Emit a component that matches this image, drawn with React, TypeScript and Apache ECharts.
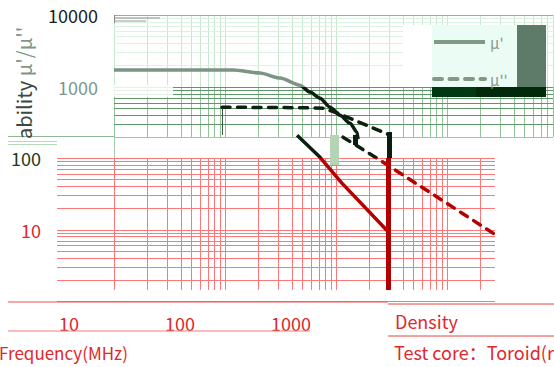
import React, { useEffect, useRef } from 'react';
import * as echarts from 'echarts';

const FONT = '"Noto Sans CJK SC", "Noto Sans", sans-serif';

// ---- data (frequency MHz, permeability) ----
const MU_REAL_UPPER: [number, number][] = [
  [10, 1700], [60, 1700], [118, 1700], [206, 1545], [313, 1315], [474, 1049], [583, 838],
  [718, 690], [884, 516], [1087, 399], [1337, 309], [1545, 231], [1580, 185],
];
const MU_REAL_LOWER: [number, number][] = [[446, 210], [718, 103], [1130, 45], [2880, 9.8]];
const MU_IMAG_UPPER: [number, number][] = [[94, 516], [470, 508], [764, 500], [1020, 430], [3060, 210]];
const MU_IMAG_LOWER: [number, number][] = [[1156, 197], [2490, 94], [27000, 8.65]];

const X_TICK_LABELS = [10, 100, 1000];
const Y_TICK_LABELS_TOP = [1000, 10000];
const Y_TICK_LABELS_BOTTOM = [10, 100];

const STEPS = [1, 2, 3, 4, 5, 6, 7, 8, 9];
const decadeLines = (decades: number[]) => decades.flatMap((d) => STEPS.map((s) => s * d));

const X_GRID = decadeLines([10, 100, 1000, 10000]);
const Y_GRID_TOP = [2000, 3000, 4000, 5000, 6000, 7000, 8000, 9000];
const Y_GRID_MID = [300, 400, 500, 600, 700, 800, 900, 1000];
const Y_GRID_RED = decadeLines([1, 10]).concat([100]);

const XMAX = Math.pow(10, 1 + 439 / 111);
const XRED_MIN = Math.pow(10, 1 - 57 / 111);
const XRED_MAX = Math.pow(10, 1 + 381 / 111);
const XLAB_MIN = Math.pow(10, 1 - 12 / 111);
const XLAB_MAX = Math.pow(10, 1 + 426 / 111);

const RED_GRID = '#ff7676';

const mk = (data: any[], color: string) => ({
  silent: true,
  z: 1,
  symbol: ['none', 'none'],
  label: { show: false },
  emphasis: { disabled: true },
  lineStyle: { type: 'solid', width: 1, color, opacity: 1 },
  data,
});

const rect = (x: number, y: number, w: number, h: number, fill: string, z = 2) => ({
  type: 'rect', silent: true, z, shape: { x, y, width: w, height: h }, style: { fill },
});
const seg = (x1: number, y1: number, x2: number, y2: number, stroke: string, w = 1, z = 2) => ({
  type: 'line', silent: true, z, shape: { x1, y1, x2, y2 }, style: { stroke, lineWidth: w },
});
const txt = (x: number, y: number, text: string, fill: string, size: number) => ({
  type: 'text', silent: true, z: 6, x, y,
  style: { text, fill, fontSize: size, fontFamily: FONT, align: 'left', verticalAlign: 'middle', textAlign: 'left', textVerticalAlign: 'middle' },
});

function buildOption(): any {
  const round = (v: number) => Math.round(v);
  const dashed = { width: 3.5, type: [8, 7.5], cap: 'round' };
  const off = () => ({
    axisLine: { show: false }, axisTick: { show: false }, splitLine: { show: false }, minorSplitLine: { show: false },
  });
  return {
    animation: false,
    textStyle: { fontFamily: FONT },
    grid: [
      { left: 114, top: 15, width: 439, height: 72 },
      { left: 114, top: 87, width: 439, height: 50 },
      { left: 57, top: 158, width: 438, height: 143.5 },
      { left: 114, top: 15, width: 439, height: 286.5 },
    ],
    xAxis: [
      { type: 'log', gridIndex: 0, min: 10, max: XMAX, show: false },
      { type: 'log', gridIndex: 1, min: 10, max: XMAX, show: false },
      {
        type: 'log', gridIndex: 2, min: XLAB_MIN, max: XLAB_MAX, position: 'bottom', ...off(),
        axisLabel: {
          margin: 12, fontSize: 18, color: '#e0262b', fontFamily: FONT,
          formatter: (v: number) => (X_TICK_LABELS.includes(round(v)) ? String(round(v)) : ''),
        },
      },
      { type: 'log', gridIndex: 2, min: XRED_MIN, max: XRED_MAX, position: 'top', show: false },
      { type: 'log', gridIndex: 3, min: 10, max: XMAX, show: false },
    ],
    yAxis: [
      {
        type: 'log', gridIndex: 0, min: 1000, max: 10000, ...off(),
        axisLabel: {
          margin: 16, fontSize: 18, fontFamily: FONT,
          color: (v: any) => (round(Number(v)) >= 10000 ? '#1c1c1c' : '#7b988a'),
          formatter: (v: number) => (Y_TICK_LABELS_TOP.includes(round(v)) ? String(round(v)) : ''),
        },
      },
      { type: 'log', gridIndex: 1, min: 200, max: 1000, show: false },
      {
        type: 'log', gridIndex: 2, min: 1, max: 100, ...off(),
        axisLabel: {
          margin: 16, fontSize: 18, fontFamily: FONT,
          color: (v: any) => (round(Number(v)) >= 100 ? '#1b3b1b' : '#e02828'),
          formatter: (v: number) => (Y_TICK_LABELS_BOTTOM.includes(round(v)) ? String(round(v)) : ''),
        },
      },
      { type: 'log', gridIndex: 3, min: 1, max: 10000, show: false },
    ],
    visualMap: {
      type: 'piecewise', show: false, dimension: 1, seriesIndex: [3, 4, 5, 6],
      pieces: [
        { gte: 1000, color: '#7c9483' },
        { gte: 100, lt: 1000, color: '#0c2010' },
        { lt: 100, color: '#b30000' },
      ],
    },
    legend: {
      orient: 'vertical', left: 432, top: 34.5, padding: 0, itemGap: 22,
      itemWidth: 51, itemHeight: 14, selectedMode: false,
      data: ["μ'", "μ''"],
      textStyle: { color: '#8a9b91', fontSize: 15, fontFamily: FONT },
      lineStyle: { color: '#7f9a85', width: 4 },
      itemStyle: { opacity: 0 },
    },
    series: [
      {
        type: 'line', xAxisIndex: 0, yAxisIndex: 0, data: [], z: 1,
        markLine: mk([
          ...X_GRID.filter((v) => v <= XMAX).map((v) => ({ xAxis: v })),
          ...Y_GRID_TOP.map((v) => ({ yAxis: v, lineStyle: { color: '#dcf3e3' } })),
          { yAxis: 10000, lineStyle: { color: '#a3a3a3' } },
        ], '#c6e8cf'),
      },
      {
        type: 'line', xAxisIndex: 1, yAxisIndex: 1, data: [], z: 1,
        markLine: mk([
          ...X_GRID.filter((v) => v <= XMAX).map((v) => ({ xAxis: v })),
          ...Y_GRID_MID.map((v) => ({ yAxis: v, lineStyle: { color: '#5f9868' } })),
          { yAxis: 200, lineStyle: { color: '#9dc9a3' } },
        ], '#92c399'),
      },
      {
        type: 'line', xAxisIndex: 3, yAxisIndex: 2, data: [], z: 1,
        markLine: mk(
          X_GRID.filter((v) => v <= XRED_MAX).map((v) => [{ coord: [v, 100] }, { coord: [v, 1.45] }]),
          RED_GRID,
        ),
      },
      {
        name: "μ'", type: 'line', xAxisIndex: 4, yAxisIndex: 3, data: MU_REAL_UPPER, z: 3,
        symbol: 'none', smooth: 0.25, smoothMonotone: 'x', lineStyle: { width: 3.5 },
      },
      {
        name: "μ'", type: 'line', xAxisIndex: 4, yAxisIndex: 3, data: MU_REAL_LOWER, z: 3,
        symbol: 'none', lineStyle: { width: 3.5 },
      },
      {
        name: "μ''", type: 'line', xAxisIndex: 4, yAxisIndex: 3, data: MU_IMAG_UPPER, z: 3,
        symbol: 'none', lineStyle: dashed,
      },
      {
        name: "μ''", type: 'line', xAxisIndex: 4, yAxisIndex: 3, data: MU_IMAG_LOWER, z: 3,
        symbol: 'none', lineStyle: dashed,
      },
      {
        type: 'line', xAxisIndex: 3, yAxisIndex: 2, data: [], z: 1,
        markLine: mk(
          Y_GRID_RED.map((v) => [{ coord: [XRED_MIN, v] }, { coord: [XRED_MAX, v] }]),
          RED_GRID,
        ),
      },
    ],
    graphic: [
      // legend backdrop
      rect(403, 25, 29, 62, '#ffffff'),
      rect(432, 25, 85, 62, '#ebfcf4'),
      rect(517, 25, 29, 62, '#5e7b69'),
      rect(432, 87, 44, 10, '#003a12'),
      rect(476, 87, 70, 10, '#002a0a'),
      // patches
      rect(114, 85, 59, 12, 'rgba(255,255,255,0.85)'),
      rect(330, 135, 9, 30, '#b5d4b5'),
      rect(387, 132, 5, 26, '#0c1c0e', 4),
      rect(386, 158, 5, 132, '#b00000', 4),
      rect(353, 135, 5, 10, '#0c1c0e', 4),
      seg(222.5, 108, 222.5, 135, '#3a5a40', 1),
      // left glitch lines
      seg(8, 136.5, 114, 136.5, '#8fb895'),
      seg(8, 141.5, 57, 141.5, '#b5dcb9'),
      seg(8, 144.5, 57, 144.5, '#b5dcb9'),
      seg(114.5, 137, 114.5, 158, '#a5cfaa'),
      seg(114, 18, 160, 18, '#8a8a8a'),
      seg(114, 21, 146, 21, '#9a9a9a'),
      seg(114.5, 15, 114.5, 23, '#8a8a8a'),
      // red rule lines
      seg(8, 302, 388, 302, '#ef5050'),
      seg(8, 331, 310, 331, '#f27a7a'),
      seg(388, 304, 554, 304, '#e84545'),
      seg(388, 336, 554, 336, '#e84545'),
      // texts
      {
        type: 'text', silent: true, z: 6, x: 23, y: 139, rotation: Math.PI / 2,
        style: {
          text: "{a|ability} {b|μ'/μ''}", fill: '#3b4a3f', fontSize: 20, fontFamily: FONT,
          align: 'left', verticalAlign: 'middle', textAlign: 'left', textVerticalAlign: 'middle',
          rich: {
            a: { fill: '#3b4a3f', fontSize: 20, fontFamily: FONT },
            b: { fill: '#7e9888', fontSize: 20, fontFamily: FONT },
          },
        },
      },
      txt(-1, 352, 'Frequency(MHz)', '#e0282c', 17),
      txt(395, 321, 'Density', '#e0282c', 18),
      txt(394, 352, 'Test core：Toroid(ring)', '#e0282c', 18),
    ],
  };
}

export default function App() {
  const ref = useRef<HTMLDivElement>(null);
  useEffect(() => {
    const chart = echarts.init(ref.current!, null, { renderer: 'svg' });
    chart.setOption(buildOption());
    return () => chart.dispose();
  }, []);
  return (
    <div
      ref={ref}
      style={{ position: 'fixed', left: 0, top: 0, width: 554, height: 367, background: '#ffffff' }}
    />
  );
}
